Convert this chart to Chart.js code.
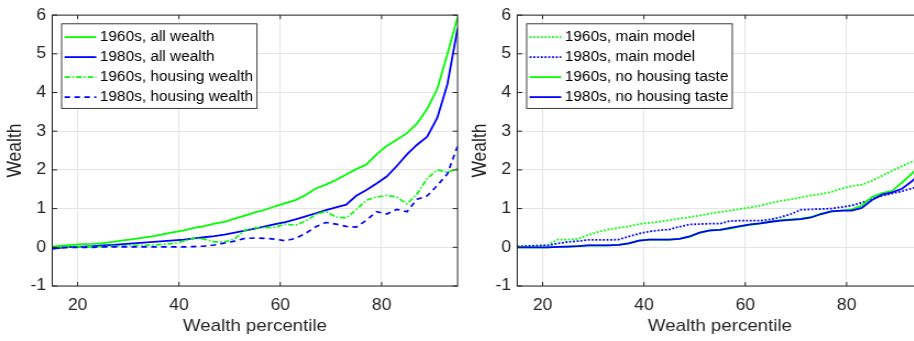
<!DOCTYPE html>
<html>
<head>
<meta charset="utf-8">
<script src="https://cdn.jsdelivr.net/npm/chart.js@4.4.0/dist/chart.umd.min.js"></script>
<style>
  html, body { margin: 0; padding: 0; background: #fff; }
  body { width: 914px; height: 341px; overflow: hidden; position: relative; }
  canvas { position: absolute; top: 0; transform-origin: 0 0; transform: scaleX(1.1); }
  #left { left: 0; }
  #right { left: 464.5px; }
</style>
</head>
<body>
<canvas id="left" width="428" height="341"></canvas>
<canvas id="right" width="428" height="341"></canvas>
<script>
// Wealth percentile grid shared by every series
const percentiles = [15,17,19,21,23,25,27,29,31,33,35,37,39,41,43,45,47,49,51,53,55,57,59,61,63,65,67,69,71,73,75,77,79,81,83,85,87,89,91,93,95];

// Left panel: all wealth vs housing wealth, by cohort
const allWealth1960 = [0.02,0.04,0.06,0.08,0.09,0.11,0.14,0.18,0.21,0.25,0.29,0.34,0.39,0.44,0.50,0.55,0.61,0.66,0.74,0.82,0.90,0.97,1.06,1.14,1.22,1.35,1.52,1.62,1.74,1.88,2.02,2.14,2.40,2.62,2.78,2.95,3.20,3.58,4.10,5.00,5.95];
const allWealth1980 = [-0.04,-0.01,0.01,0.02,0.03,0.05,0.06,0.08,0.10,0.12,0.14,0.16,0.18,0.20,0.23,0.26,0.29,0.33,0.38,0.43,0.48,0.54,0.60,0.65,0.72,0.80,0.88,0.96,1.03,1.10,1.33,1.48,1.65,1.83,2.10,2.40,2.65,2.86,3.35,4.22,5.66];
const housing1960 = [0.00,0.00,0.01,0.01,0.01,0.02,0.03,0.03,0.05,0.05,0.06,0.08,0.10,0.16,0.24,0.21,0.14,0.14,0.22,0.44,0.50,0.51,0.52,0.60,0.57,0.68,0.85,0.93,0.78,0.76,0.97,1.22,1.30,1.34,1.30,1.12,1.38,1.78,2.00,1.94,2.03];
const housing1980 = [-0.02,-0.01,0.00,0.00,0.00,0.01,0.01,0.01,0.01,0.01,0.01,0.01,0.01,0.01,0.02,0.03,0.06,0.11,0.16,0.23,0.24,0.23,0.21,0.17,0.23,0.36,0.53,0.64,0.60,0.54,0.52,0.70,0.92,0.86,0.98,0.92,1.24,1.33,1.60,1.90,2.62];

// Right panel: main model vs model without a taste for housing
const mainModel1960 = [0.03,0.04,0.05,0.06,0.20,0.20,0.22,0.32,0.40,0.46,0.50,0.54,0.60,0.63,0.66,0.70,0.74,0.78,0.82,0.87,0.91,0.95,0.99,1.03,1.08,1.14,1.20,1.24,1.29,1.34,1.38,1.43,1.52,1.58,1.62,1.72,1.85,1.98,2.10,2.22,2.30];
const mainModel1980 = [0.02,0.03,0.04,0.05,0.10,0.14,0.16,0.19,0.19,0.19,0.20,0.28,0.35,0.41,0.44,0.46,0.53,0.59,0.60,0.61,0.61,0.68,0.69,0.69,0.69,0.72,0.78,0.86,0.97,0.98,0.99,1.00,1.04,1.08,1.15,1.25,1.33,1.39,1.45,1.53,1.58];
const noTaste1960 = [0,0,0,0,0.01,0.02,0.03,0.05,0.05,0.05,0.06,0.10,0.17,0.20,0.20,0.20,0.22,0.27,0.38,0.43,0.45,0.48,0.54,0.58,0.62,0.66,0.70,0.72,0.74,0.78,0.87,0.93,0.95,0.98,1.08,1.30,1.40,1.46,1.68,1.92,2.15];
const noTaste1980 = [0,0,0,0,0.01,0.02,0.03,0.05,0.05,0.05,0.06,0.10,0.17,0.20,0.20,0.20,0.22,0.28,0.38,0.44,0.45,0.50,0.55,0.59,0.62,0.66,0.69,0.71,0.73,0.77,0.86,0.93,0.95,0.95,1.02,1.22,1.36,1.42,1.52,1.72,1.95];

// Axis ticks
const xTickValues = [20, 40, 60, 80];
const xMin = 15, xMax = 95;
const yMin = -1, yMax = 6;

const FONT = "'Liberation Sans', Arial, Helvetica, sans-serif";
const GREEN = '#00ff00';
const BLUE = '#0000ff';
const AXIS = '#262626';

function points(values) {
  return percentiles.map((p, i) => ({ x: p, y: values[i] }));
}

function series(label, values, color, dash, width, order) {
  return {
    label, data: points(values), borderColor: color, backgroundColor: color,
    borderDash: dash, borderWidth: width, pointRadius: 0, tension: 0,
    fill: false, order
  };
}

// Box around the axes with inward tick marks, plus a boxed legend
const frameBox = {
  id: 'frameBox',
  afterDatasetsDraw(chart) {
    const { ctx, chartArea: a } = chart;
    const xs = chart.scales.x, ys = chart.scales.y;
    ctx.save();
    ctx.strokeStyle = AXIS;
    ctx.lineWidth = 1;
    ctx.setLineDash([]);
    ctx.strokeRect(a.left, a.top, a.right - a.left, a.bottom - a.top);
    ctx.beginPath();
    xTickValues.forEach(v => {
      const px = xs.getPixelForValue(v);
      ctx.moveTo(px, a.bottom); ctx.lineTo(px, a.bottom - 4);
      ctx.moveTo(px, a.top); ctx.lineTo(px, a.top + 4);
    });
    ys.ticks.forEach(t => {
      const py = ys.getPixelForValue(t.value);
      ctx.moveTo(a.left, py); ctx.lineTo(a.left + 4.5, py);
      ctx.moveTo(a.right, py); ctx.lineTo(a.right - 4.5, py);
    });
    ctx.stroke();
    ctx.restore();
  },
  afterDraw(chart, args, opts) {
    const { ctx, chartArea: a } = chart;
    const items = chart.data.datasets;
    ctx.save();
    ctx.font = '14px ' + FONT;
    const maxW = Math.max(...items.map(d => ctx.measureText(d.label).width));
    const bx = a.left + opts.offsetX, by = a.top + opts.offsetY;
    const textX = 34.8, rowH = 20, h = 84.6;
    const w = textX + maxW + 3.5;
    ctx.fillStyle = '#fff';
    ctx.fillRect(bx, by, w, h);
    ctx.strokeStyle = AXIS;
    ctx.lineWidth = 0.9;
    ctx.strokeRect(bx, by, w, h);
    items.forEach((d, i) => {
      const cy = by + 13.3 + i * rowH;
      ctx.strokeStyle = d.borderColor;
      ctx.lineWidth = d.borderWidth;
      ctx.setLineDash(d.borderDash || []);
      ctx.beginPath();
      ctx.moveTo(bx + 2.7, cy);
      ctx.lineTo(bx + 31.5, cy);
      ctx.stroke();
      ctx.setLineDash([]);
      ctx.fillStyle = '#000';
      ctx.textBaseline = 'middle';
      ctx.textAlign = 'left';
      ctx.fillText(d.label, bx + textX, cy + 0.5);
    });
    ctx.restore();
  }
};

function makeOptions() {
  return {
    responsive: false,
    animation: false,
    layout: { padding: { left: 0, right: 12, top: 9, bottom: 0 } },
    plugins: {
      legend: { display: false },
      tooltip: { enabled: false },
      frameBox: { offsetX: 8.5, offsetY: 8.7 }
    },
    scales: {
      x: {
        type: 'linear', min: xMin, max: xMax,
        afterBuildTicks: s => { s.ticks = xTickValues.map(v => ({ value: v })); },
        afterFit: s => { s.height = 55; },
        grid: { color: '#e4e4e4', drawTicks: false },
        border: { display: false },
        ticks: { font: { family: FONT, size: 16 }, color: AXIS, padding: 9.5, maxRotation: 0, autoSkip: false },
        title: { display: true, text: 'Wealth percentile', color: AXIS,
                 font: { family: FONT, size: 17 }, padding: { top: 0, bottom: 4 } }
      },
      y: {
        type: 'linear', min: yMin, max: yMax,
        afterFit: s => { s.width = 47.5; },
        grid: { color: '#e4e4e4', drawTicks: false },
        border: { display: false },
        ticks: { stepSize: 1, font: { family: FONT, size: 16 }, color: AXIS, padding: 5.5 },
        title: { display: true, text: 'Wealth', color: AXIS,
                 font: { family: FONT, size: 17.5 }, padding: { top: 4, bottom: 0 } }
      }
    }
  };
}

new Chart(document.getElementById('left'), {
  type: 'line',
  data: {
    datasets: [
      series('1960s, all wealth', allWealth1960, GREEN, [], 1.8, 3),
      series('1980s, all wealth', allWealth1980, BLUE, [], 1.8, 2),
      series('1960s, housing wealth', housing1960, GREEN, [5, 2, 1.5, 2], 1.7, 1),
      series('1980s, housing wealth', housing1980, BLUE, [5, 4], 1.7, 0)
    ]
  },
  options: makeOptions(),
  plugins: [frameBox]
});

new Chart(document.getElementById('right'), {
  type: 'line',
  data: {
    datasets: [
      series('1960s, main model', mainModel1960, GREEN, [1.8, 1.6], 1.8, 3),
      series('1980s, main model', mainModel1980, BLUE, [1.8, 1.6], 1.8, 2),
      series('1960s, no housing taste', noTaste1960, GREEN, [], 1.8, 1),
      series('1980s, no housing taste', noTaste1980, BLUE, [], 1.8, 0)
    ]
  },
  options: makeOptions(),
  plugins: [frameBox]
});
</script>
</body>
</html>
